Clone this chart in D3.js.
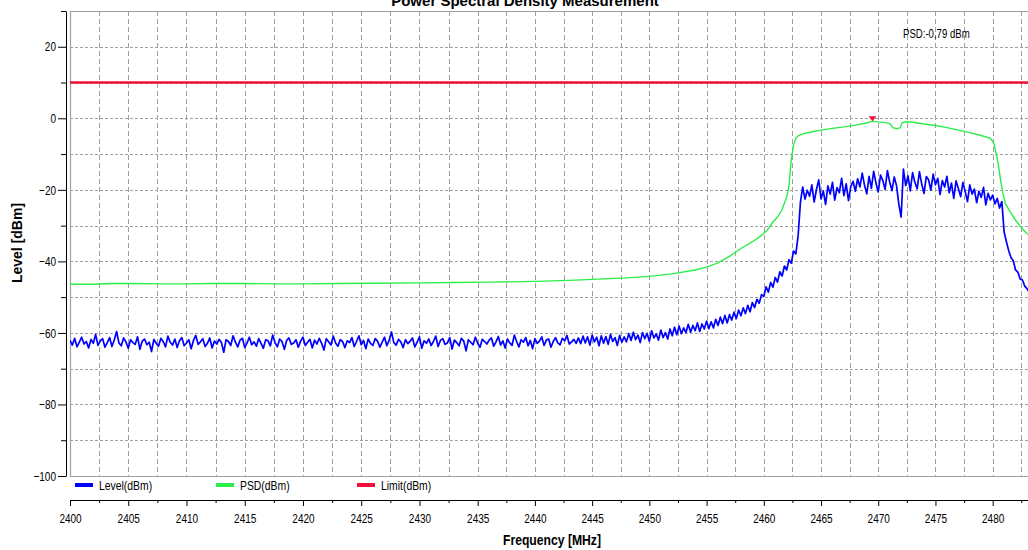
<!DOCTYPE html>
<html><head><meta charset="utf-8">
<script src="https://cdn.jsdelivr.net/npm/d3@7"></script>
<style>
body{margin:0;background:#fff}
svg{display:block}
text{font-family:"Liberation Sans",Arial,sans-serif;fill:#000}
</style>
</head><body>
<svg id="c" width="1028" height="550"></svg>
<script>
// ---------- data ----------
const title = "Power Spectral Density Measurement";
const xLabel = "Frequency [MHz]";
const yLabel = "Level [dBm]";
const xTickValues = [2400,2405,2410,2415,2420,2425,2430,2435,2440,2445,2450,2455,2460,2465,2470,2475,2480];
const yTickValues = [-100,-80,-60,-40,-20,0,20];
const yMinorValues = [30,10,-10,-30,-50,-70,-90];
const legendLabels = ["Level(dBm)","PSD(dBm)","Limit(dBm)"];

// Level trace: sweep starts at 2400 MHz, one reading every 0.2 MHz
const freqStart = 2400, freqStep = 0.2;
const levelDbm = [
-62.1,-63.4,-61.5,-63.9,-62.6,-61.2,-63.1,-62.4,-64.2,-61.8,-62.9,-60.4,-63.5,-62.2,-61.6,-64.0,-62.7,-61.3,-63.8,-62.0,
-59.6,-62.8,-63.6,-61.4,-62.5,-64.3,-61.9,-62.7,-63.2,-61.1,-64.6,-62.3,-61.7,-63.3,-62.6,-65.2,-61.8,-62.9,-63.7,-61.5,
-62.4,-63.9,-60.9,-62.6,-63.4,-61.7,-64.1,-62.2,-61.3,-63.6,-62.8,-61.9,-64.4,-62.1,-60.7,-63.2,-62.5,-61.6,-63.8,-62.9,
-61.4,-64.2,-62.3,-63.1,-61.8,-62.7,-65.4,-61.9,-62.4,-63.5,-60.8,-62.6,-63.9,-62.0,-61.5,-64.1,-62.8,-61.2,-63.3,-62.5,
-63.7,-61.6,-62.9,-64.3,-61.9,-62.2,-63.6,-60.6,-62.7,-63.9,-61.7,-62.4,-64.6,-62.1,-61.4,-63.2,-62.8,-61.9,-64.0,-62.3,
-61.2,-63.5,-62.6,-61.8,-64.2,-62.0,-63.1,-61.5,-62.9,-64.8,-61.6,-62.5,-63.4,-60.9,-62.8,-63.7,-61.9,-62.4,-64.1,-62.2,
-62.7,-61.3,-63.8,-62.4,-60.8,-63.3,-62.1,-64.4,-61.7,-62.9,-63.5,-61.6,-62.3,-64.0,-62.6,-61.2,-63.6,-62.0,-59.8,-62.7,
-63.4,-61.8,-62.5,-64.1,-61.9,-63.0,-62.3,-61.4,-63.9,-62.6,-61.1,-64.3,-62.2,-62.9,-61.7,-63.5,-62.4,-60.9,-63.8,-62.1,
-61.6,-63.2,-62.8,-61.3,-64.5,-62.0,-62.7,-63.6,-61.5,-62.3,-65.0,-61.9,-62.6,-63.3,-61.2,-62.9,-64.0,-61.8,-62.4,-63.1,
-62.0,-61.4,-63.7,-62.5,-61.0,-63.4,-62.2,-64.2,-61.7,-62.8,-63.5,-60.6,-62.4,-63.9,-61.9,-62.6,-61.3,-63.6,-62.1,-64.4,
-61.6,-62.9,-62.3,-61.1,-63.5,-62.0,-61.7,-64.0,-62.4,-61.3,-62.8,-63.3,-61.5,-62.2,-60.7,-63.1,-62.5,-61.8,-62.9,-61.4,
-63.0,-60.9,-62.8,-61.1,-63.4,-60.6,-62.5,-61.2,-63.6,-60.8,-62.9,-61.0,-63.2,-60.4,-62.4,-61.3,-63.5,-60.7,-62.6,-61.1,
-62.5,-60.2,-62.1,-59.8,-61.9,-60.6,-62.7,-59.9,-61.6,-60.1,-62.3,-59.4,-61.4,-60.3,-62.0,-59.2,-61.3,-59.9,-61.7,-58.9,
-60.8,-58.4,-60.5,-58.1,-60.2,-58.6,-59.9,-57.6,-59.8,-57.9,-59.4,-57.2,-59.6,-57.5,-58.9,-56.7,-58.8,-56.9,-58.6,-56.2,
-57.9,-55.6,-57.4,-55.1,-57.2,-54.9,-56.4,-54.2,-56.0,-53.6,-55.2,-53.0,-54.6,-52.3,-54.1,-51.5,-52.9,-50.6,-51.7,-49.3,
-49.8,-47.1,-48.6,-45.9,-47.2,-44.5,-45.8,-42.9,-44.1,-41.3,-42.4,-39.5,-40.5,-37.1,-37.9,-32.8,-23.5,-19.2,-22.6,-20.1,
-21.8,-18.6,-23.4,-19.9,-17.2,-22.5,-20.3,-24.1,-18.9,-21.2,-17.9,-22.9,-19.4,-20.8,-16.8,-21.6,-18.3,-23.0,-19.1,-17.6,
-20.4,-16.9,-19.2,-15.3,-18.7,-21.1,-16.2,-19.6,-14.8,-18.1,-20.6,-15.9,-17.4,-19.9,-14.6,-17.8,-20.2,-16.4,-18.9,-24.0,
-27.6,-14.2,-18.8,-16.1,-20.3,-15.2,-17.9,-19.7,-14.9,-18.4,-21.0,-16.3,-17.2,-20.1,-15.6,-18.6,-16.8,-21.3,-17.4,-19.2,
-16.2,-20.8,-18.1,-22.4,-17.5,-19.6,-21.9,-17.9,-20.5,-23.3,-18.6,-21.2,-19.8,-23.6,-20.4,-22.1,-19.3,-24.2,-21.0,-22.8,
-21.5,-23.9,-22.4,-25.1,-23.3,-31.8,-34.5,-37.0,-38.9,-39.8,-42.4,-43.0,-44.9,-45.2,-46.9,-47.6,-48.7
];

// PSD trace
const psdFreq = [2400,2402,2403.5,2405,2408,2410,2412,2415,2418,2420,
2423,2426,2430,2433,2436,2440,2443,2446,2448,2450,
2452,2454,2455,2456,2457,2458,2459,2459.7,2460.3,2460.8,
2461.2,2461.6,2462.0,2462.2,2462.4,2462.6,2462.8,2463.0,2463.5,2464,
2465,2466,2467,2468,2469,2469.5,2470,2470.6,2471.0,2471.3,
2471.6,2471.9,2472.1,2472.5,2473,2474,2475,2476,2477,2478,
2479,2479.8,2480.1,2480.3,2480.5,2480.7,2480.9,2481.1,2481.5,2482,
2482.5,2483,2483.3];
const psdDbm = [-46.4,-46.4,-46.2,-46.2,-46.3,-46.3,-46.2,-46.2,-46.3,-46.3,
-46.2,-46.1,-46.0,-45.9,-45.8,-45.6,-45.3,-44.9,-44.6,-44.2,
-43.5,-42.4,-41.6,-40.4,-38.6,-36.4,-34.5,-33.0,-31.3,-29.0,
-27.6,-25.5,-22.0,-19.0,-11.5,-7.5,-5.6,-4.9,-4.3,-3.9,
-3.3,-2.8,-2.4,-1.9,-1.3,-0.79,-1.0,-1.2,-1.5,-2.6,
-2.9,-2.7,-1.2,-0.95,-1.1,-1.6,-2.0,-2.6,-3.3,-4.0,
-4.8,-5.6,-7.0,-9.8,-13.0,-17.5,-21.0,-23.8,-26.0,-28.5,
-30.6,-32.2,-33.0];

const limitDbm = 10;
const markerFreq = 2469.5, markerDbm = -0.79;

// ---------- layout ----------
const L = 70, R = 1028, T = 11, B = 476;
const colBlue = "#0000ff", colGreen = "#2bee4a", colRed = "#f0103a", colGrid = "#a0a0a0";
const squash = 0.77;

const svg = d3.select("#c");
const x = d3.scaleLinear().domain([2400, 2435, 2483.2]).range([L, 477.7, 1029.3]);
const y = d3.scaleLinear().domain([-100, 30]).range([B, T]);

function label(px, py, s, txt, size, bold, anchor) {
  return svg.append("text")
    .attr("transform", `translate(${px},${py}) scale(${s},1)`)
    .attr("text-anchor", anchor || "start")
    .style("font-size", size + "px").style("font-weight", bold ? "bold" : "normal")
    .text(txt);
}

// title
label(525, 5.5, 1, title, 15, true, "middle");

// grid
const grid = svg.append("g");
grid.selectAll("line.h").data(d3.range(-90, 30, 10)).join("line")
  .attr("x1", L).attr("x2", R).attr("y1", d => Math.round(y(d)) + 0.5).attr("y2", d => Math.round(y(d)) + 0.5)
  .attr("stroke", colGrid).attr("stroke-dasharray", "3,2");
grid.selectAll("line.v").data(d3.range(2402.5, 2484, 2.5)).join("line")
  .attr("y1", T).attr("y2", B).attr("x1", d => Math.round(x(d)) + 0.5).attr("x2", d => Math.round(x(d)) + 0.5)
  .attr("stroke", colGrid).attr("stroke-dasharray", "5,3");
grid.append("path").attr("d", `M${R},${T + 0.5}H${L + 0.5}V${B + 0.5}H${R}`)
  .attr("fill", "none").attr("stroke", colGrid).attr("stroke-width", 1.2);

// clip
svg.append("clipPath").attr("id", "clip").append("rect").attr("x", L).attr("y", T).attr("width", R - L).attr("height", B - T);
const plot = svg.append("g").attr("clip-path", "url(#clip)");

// limit line
plot.append("line").attr("x1", x(2400)).attr("x2", x(2483.2)).attr("y1", y(limitDbm)).attr("y2", y(limitDbm))
  .attr("stroke", colRed).attr("stroke-width", 2.5);

// level trace
plot.append("path").datum(levelDbm)
  .attr("d", d3.line().x((d, i) => x(freqStart + i * freqStep)).y(d => y(d)))
  .attr("fill", "none").attr("stroke", colBlue).attr("stroke-width", 1.7).attr("stroke-linejoin", "round");

// PSD trace
plot.append("path").datum(psdDbm)
  .attr("d", d3.line().x((d, i) => x(psdFreq[i])).y(d => y(d)))
  .attr("fill", "none").attr("stroke", colGreen).attr("stroke-width", 1.4);

// marker
const mx = x(markerFreq), my = y(markerDbm);
plot.append("path").attr("d", `M${mx - 4},${my - 5}L${mx + 4},${my - 5}L${mx},${my}Z`).attr("fill", colRed);

// readout
label(903, 38, 0.8, "PSD:" + String(markerDbm).replace(".", ",") + " dBm", 12, false);

// y axis
const gy = svg.append("g").attr("transform", "translate(66,0)");
gy.call(d3.axisLeft(y).tickValues(yTickValues).tickSize(8).tickPadding(2).tickSizeOuter(0));
gy.append("g").call(d3.axisLeft(y).tickValues(yMinorValues).tickSize(5).tickFormat("").tickSizeOuter(0))
  .select(".domain").remove();
gy.selectAll("text").style("font-size", "13px")
  .attr("x", -10 / squash).attr("transform", `scale(${squash},1)`);
gy.selectAll("line,path").attr("stroke", "#000");

// x axis
const gx = svg.append("g").attr("transform", "translate(0,500)");
gx.call(d3.axisBottom(x).tickValues(xTickValues).tickSize(6).tickPadding(8).tickSizeOuter(0).tickFormat(d3.format("d")));
gx.append("g").call(d3.axisBottom(x).tickValues(d3.range(2402.5, 2484, 5)).tickSize(3).tickFormat("").tickSizeOuter(0))
  .select(".domain").remove();
gx.selectAll("text").style("font-size", "13px").attr("transform", `scale(${squash},1)`);
gx.selectAll("line,path").attr("stroke", "#000");

// axis labels
label(552, 545, 0.84, xLabel, 14.5, true, "middle");
svg.append("text").attr("transform", "translate(22,243) rotate(-90)").attr("text-anchor", "middle")
  .style("font-weight", "bold").style("font-size", "14px").text(yLabel);

// legend
const legColors = [colBlue, colGreen, colRed];
const leg = svg.append("g").selectAll("g").data(legendLabels).join("g")
  .attr("transform", (d, i) => `translate(${75 + i * 141},485)`);
leg.append("rect").attr("x", 0).attr("y", -2).attr("width", 18).attr("height", 4).attr("fill", (d, i) => legColors[i]);
leg.append("text").attr("transform", "translate(24,4.5) scale(0.8,1)").style("font-size", "13px").text(d => d);
</script>
</body></html>
